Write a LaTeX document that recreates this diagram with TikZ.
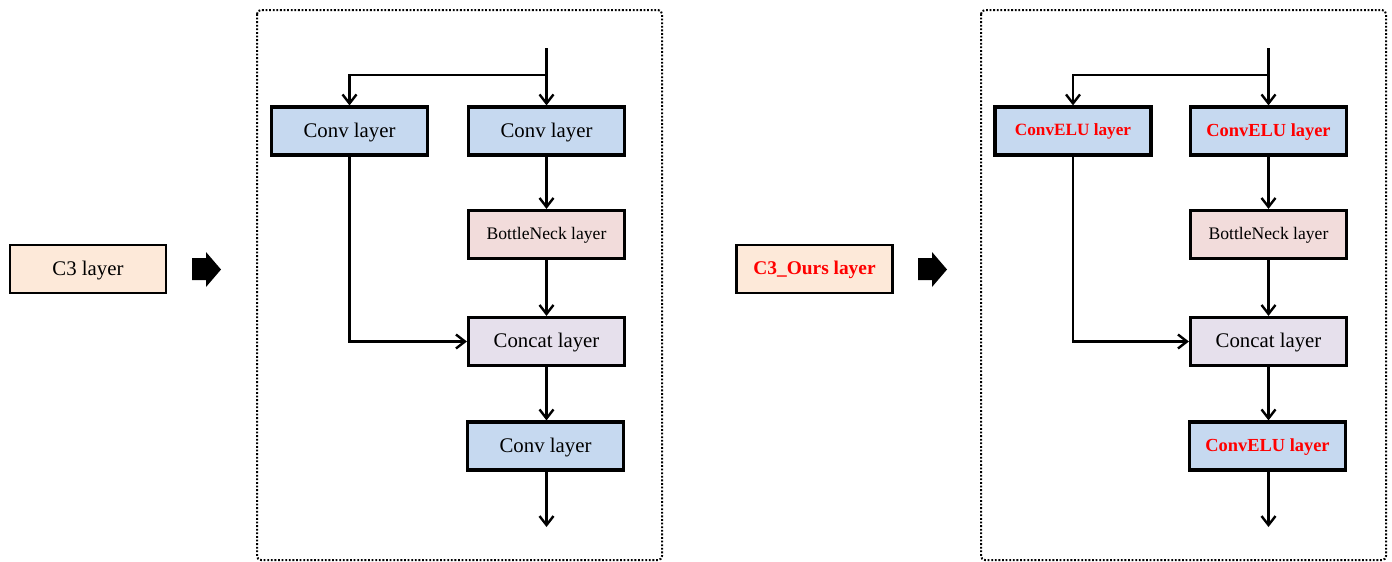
\documentclass[tikz,border=0pt]{standalone}
\usepackage{fontspec}
\setmainfont{Liberation Serif}
\usetikzlibrary{arrows.meta}
\definecolor{convblue}{HTML}{C6D9F0}
\definecolor{neckpink}{HTML}{F2DCDB}
\definecolor{catlilac}{HTML}{E6E0EC}
\definecolor{peach}{HTML}{FDE9D9}
\definecolor{hired}{HTML}{FF0000}
\tikzset{
  layerbox/.style={draw=black, line width=1.6pt, minimum width=78pt, minimum height=24pt,
    inner sep=0pt, text depth=0.25ex, font=\fontsize{10.4}{12}\selectfont},
  convbox/.style={layerbox, fill=convblue},
  neckbox/.style={layerbox, fill=neckpink, font=\fontsize{8.8}{10}\selectfont},
  catbox/.style={layerbox, fill=catlilac},
  c3box/.style={layerbox, fill=peach, line width=1.3pt},
  conn/.style={line width=1.2pt, -{Straight Barb[length=4.5pt, width=7pt, line width=1.2pt]}},
  frame/.style={draw=black, line width=1pt, dash pattern=on 0.9pt off 0.9pt, rounded corners=2pt},
  blockarrow/.style={fill=black}
}
\begin{document}
\begin{tikzpicture}[x=0.5pt, y=-0.5pt]
\useasboundingbox (0,0) rectangle (1392,562);

% ---------- original C3 block ----------
\node[c3box] (c3) at (88,269) {C3 layer};
\fill[blockarrow] (192,258) -- (206,258) -- (206,252) -- (221,269.5) -- (206,287) -- (206,280) -- (192,280) -- cycle;
\draw[frame] (257,10) rectangle (662,560);

\node[convbox] (convA) at (349.5,131) {Conv layer};
\node[convbox] (convB) at (546.5,131) {Conv layer};
\node[neckbox] (neckA) at (546.5,234.5) {BottleNeck layer};
\node[catbox] (catA) at (546.5,341.5) {Concat layer};
\node[convbox] (convC) at (545.5,446) {Conv layer};
\coordinate (inA) at (546.5,48);
\coordinate (splitA) at (546.5,75);
\coordinate (outA) at (546.5,527);

\draw[conn] (inA) -- (convB.north);
\draw[conn] (splitA) -| (convA.north);
\draw[conn] (convB) -- (neckA);
\draw[conn] (neckA) -- (catA);
\draw[conn] (convA.south) |- (catA.west);
\draw[conn] (catA.south) -- (catA.south |- convC.north);
\draw[conn] (convC.south -| catA.south) -- (outA);

% ---------- modified C3 block ----------
\node[c3box] (c3o) at (814.5,269) {\textcolor{hired}{\bfseries\fontsize{9.7}{11}\selectfont C3\_Ours layer}};
\fill[blockarrow] (918,258) -- (932,258) -- (932,252) -- (947,269.5) -- (932,287) -- (932,280) -- (918,280) -- cycle;
\draw[frame] (981,10) rectangle (1386,560);

\node[convbox] (eluA) at (1073,131) {\textcolor{hired}{\bfseries\fontsize{8.6}{10}\selectfont ConvELU layer}};
\node[convbox] (eluB) at (1268.5,131) {\textcolor{hired}{\bfseries\fontsize{9.2}{11}\selectfont ConvELU layer}};
\node[neckbox] (neckB) at (1268.5,234.5) {BottleNeck layer};
\node[catbox] (catB) at (1268.5,341.5) {Concat layer};
\node[convbox] (eluC) at (1267.5,446) {\textcolor{hired}{\bfseries\fontsize{9.2}{11}\selectfont ConvELU layer}};
\coordinate (inB) at (1268.5,48);
\coordinate (splitB) at (1268.5,75);
\coordinate (outB) at (1268.5,527);

\draw[conn] (inB) -- (eluB.north);
\draw[conn] (splitB) -| (eluA.north);
\draw[conn] (eluB) -- (neckB);
\draw[conn] (neckB) -- (catB);
\draw[conn] (eluA.south) |- (catB.west);
\draw[conn] (catB.south) -- (catB.south |- eluC.north);
\draw[conn] (eluC.south -| catB.south) -- (outB);
\end{tikzpicture}
\end{document}
